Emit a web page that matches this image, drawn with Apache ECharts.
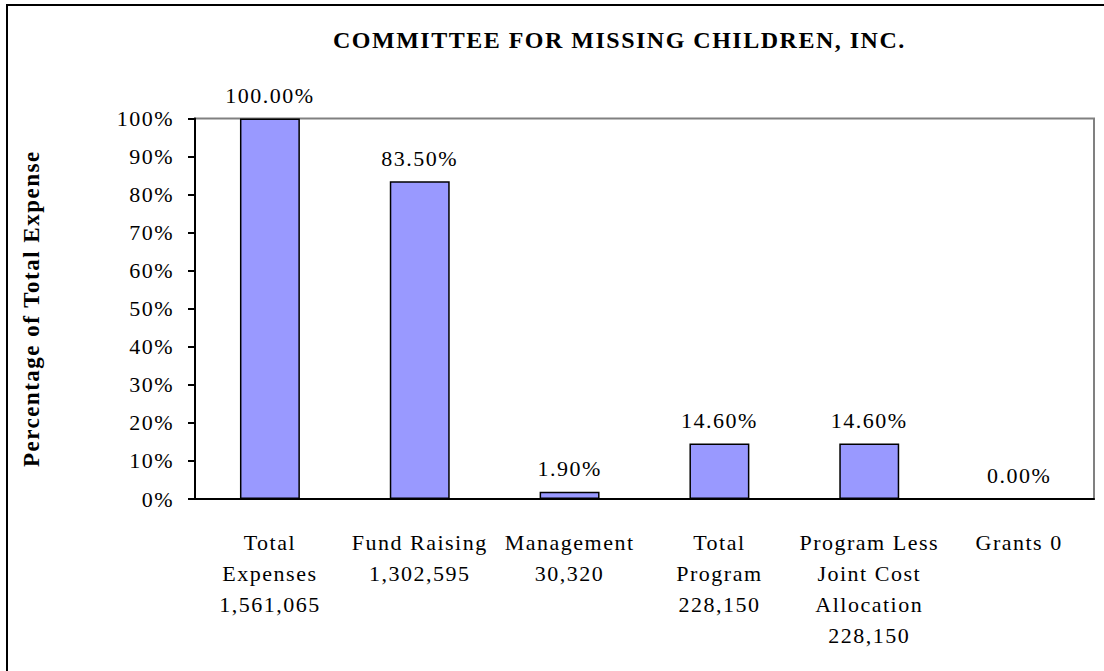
<!DOCTYPE html>
<html>
<head>
<meta charset="utf-8">
<script src="https://cdn.jsdelivr.net/npm/echarts@6/dist/echarts.min.js"></script>
<style>
  html, body { margin: 0; padding: 0; background: #fff; }
  #chart { width: 1104px; height: 671px; }
  /* the original sheet prints its Times text a little wide */
  #chart text { letter-spacing: 1.5px; }
</style>
</head>
<body>
<div id="chart"></div>
<script>
// categories (name + dollar amount) and share of total expense, in percent
const categories = [
  "Total\nExpenses\n1,561,065",
  "Fund Raising\n1,302,595",
  "Management\n30,320",
  "Total\nProgram\n228,150",
  "Program Less\nJoint Cost\nAllocation\n228,150",
  "Grants 0"
];
const percentValues = [100, 83.5, 1.9, 14.6, 14.6, 0];
const yTicks = [0, 10, 20, 30, 40, 50, 60, 70, 80, 90, 100];

const serif = "Liberation Serif, Times New Roman, serif";

const chart = echarts.init(document.getElementById("chart"), null, { renderer: "svg" });

chart.setOption({
  animation: false,
  backgroundColor: "#fff",
  title: {
    text: "COMMITTEE FOR MISSING CHILDREN, INC.",
    left: 328,
    top: 23,
    textStyle: {
      fontFamily: serif,
      fontWeight: "bold",
      fontSize: 24,
      color: "#000",
    },
  },
  // outer frame of the chart sheet (only top and left edges are in view)
  graphic: [
    {
      type: "rect",
      shape: { x: 7, y: 5, width: 1300, height: 900 },
      style: { fill: null, stroke: "#000", lineWidth: 2 },
      silent: true,
    },
  ],
  grid: {
    left: 195,
    right: 10,
    top: 118.5,
    bottom: 172,
    show: true,
    borderColor: "#808080",
    borderWidth: 2,
  },
  xAxis: {
    type: "category",
    data: categories,
    axisLine: { lineStyle: { color: "#000", width: 2 } },
    axisTick: { length: 8, lineStyle: { color: "#000", width: 2 } },
    axisLabel: {
      interval: 0,
      margin: 28,
      fontFamily: serif,
      fontSize: 22,
      lineHeight: 31,
      color: "#000",
    },
  },
  yAxis: {
    type: "value",
    min: yTicks[0],
    max: yTicks[yTicks.length - 1],
    interval: 10,
    name: "Percentage of Total Expense",
    nameLocation: "middle",
    nameGap: 152,
    nameMoveOverlap: false,
    nameTextStyle: {
      fontFamily: serif,
      fontWeight: "bold",
      fontSize: 23,
      color: "#000",
    },
    splitLine: { show: false },
    axisLine: { show: true, lineStyle: { color: "#000", width: 2 } },
    axisTick: { show: true, length: 7, lineStyle: { color: "#000", width: 2 } },
    axisLabel: {
      margin: 21,
      formatter: "{value}%",
      fontFamily: serif,
      fontSize: 22,
      color: "#000",
    },
  },
  series: [
    {
      type: "bar",
      data: percentValues,
      barWidth: "40%",
      itemStyle: {
        color: "#9999FF",
        borderColor: "#000",
        borderWidth: 1.5,
      },
      label: {
        show: true,
        position: "top",
        distance: 12,
        formatter: (p) => p.value.toFixed(2) + "%",
        fontFamily: serif,
        fontSize: 22,
        color: "#000",
      },
    },
  ],
});
</script>
</body>
</html>
